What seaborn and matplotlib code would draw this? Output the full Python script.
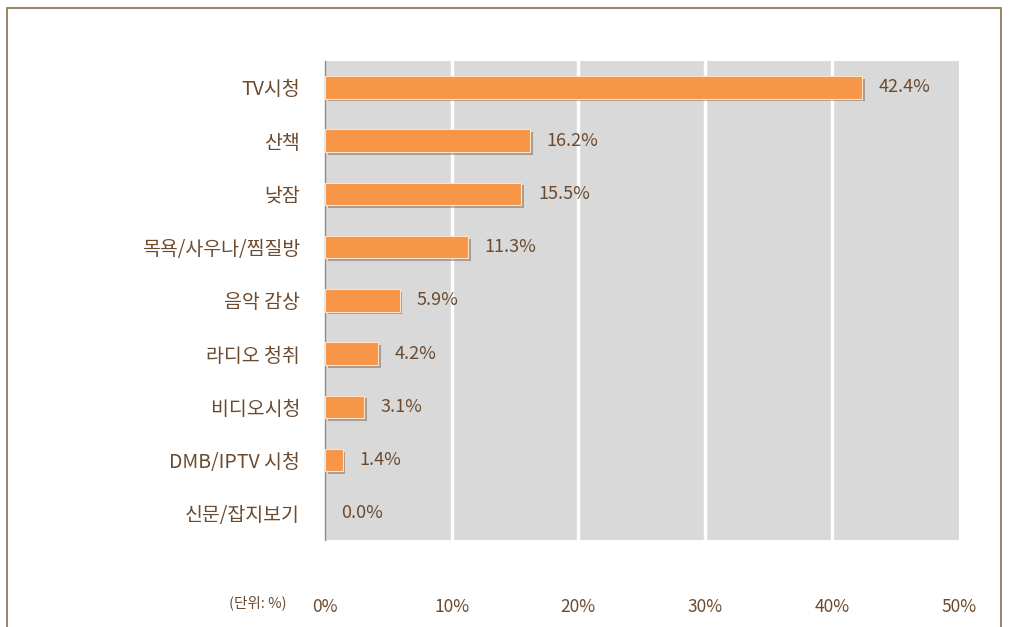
import numpy as np
import pandas as pd
import seaborn as sns
from matplotlib import pyplot as plt
from matplotlib import patheffects as pe
from matplotlib.patches import Rectangle

sns.set_theme(style="white")
plt.rcParams['font.family'] = ['Noto Sans CJK KR', 'DejaVu Sans']

categories = ['TV시청', '산책', '낮잠', '목욕/사우나/찜질방', '음악 감상',
              '라디오 청취', '비디오시청', 'DMB/IPTV 시청', '신문/잡지보기']
values = [42.4, 16.2, 15.5, 11.3, 5.9, 4.2, 3.1, 1.4, 0.0]
xticks = [0, 10, 20, 30, 40, 50]

df = pd.DataFrame({'activity': categories, 'share': values})

text_color = '#6b4a2e'
fig = plt.figure(figsize=(10.09, 6.27), dpi=100)
ax = fig.add_axes([0.322, 0.139, 0.628, 0.764])
ax.set_facecolor('#d9d9d9')

sns.barplot(data=df, x='share', y='activity', orient='h', color='#f79646',
            width=0.42, saturation=1, edgecolor='#fde3c8', linewidth=0.8, ax=ax)
for bar, v in zip(ax.patches, values):
    if v == 0:
        bar.set_linewidth(0)
        continue
    bar.set_path_effects([pe.SimplePatchShadow(offset=(2, -2), alpha=0.35), pe.Normal()])
    bar.set_zorder(3)

ax.bar_label(ax.containers[0], labels=['%.1f%%' % v for v in values],
             padding=12, fontsize=13, color=text_color)

ax.set_xlim(0, 50)
ax.set_ylim(len(categories) - 0.5, -0.5)
ax.set_xticks(xticks)
ax.set_xticklabels(['%d%%' % t for t in xticks], fontsize=12.5, color=text_color)
for t in xticks[1:-1]:
    ax.axvline(t, color='white', lw=2.5, zorder=1)
ax.tick_params(axis='x', length=0, pad=42)
ax.tick_params(axis='y', which='major', length=0, pad=18, labelsize=14, labelcolor=text_color)
for lbl in ax.get_yticklabels():
    lbl.set_fontweight('medium')
ax.set_yticks(np.arange(-0.5, len(categories)), minor=True)
ax.tick_params(axis='y', which='minor', length=5, width=1, color='#8c8c8c', direction='out')
ax.set_xlabel('')
ax.set_ylabel('')
for s in ['top', 'right', 'bottom']:
    ax.spines[s].set_visible(False)
ax.spines['left'].set_color('#8c8c8c')
ax.spines['left'].set_linewidth(1)

fig.text(258 / 1009, 1 - 603 / 627, '(단위: %)', fontsize=10.5, color=text_color,
         ha='center', va='center')

fig.patches.append(Rectangle((7 / 1009, -0.01), 994 / 1009, 1 - 8 / 627 + 0.01,
                             transform=fig.transFigure, fill=False,
                             edgecolor='#8b6f47', linewidth=1.2))

plt.savefig('out.png', dpi=100)
